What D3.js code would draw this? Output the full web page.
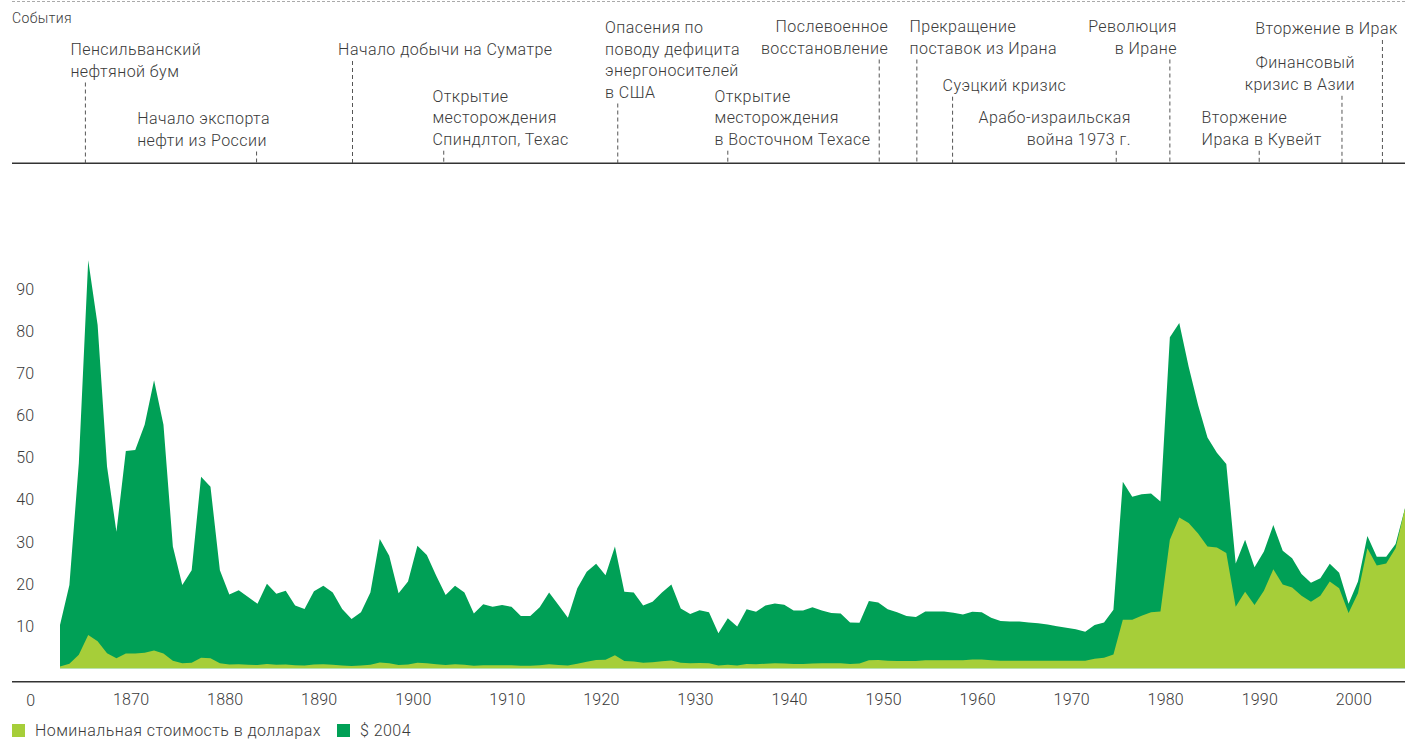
<!DOCTYPE html>
<html>
<head>
<meta charset="utf-8">
<script src="https://cdn.jsdelivr.net/npm/d3@7"></script>
<style>
  body { margin: 0; background: #fff; }
  svg { display: block; font-family: Roboto, "Liberation Sans", sans-serif; font-weight: 300; }
</style>
</head>
<body>
<svg id="chart" width="1410" height="740"></svg>
<script>
// годы и цены на нефть (два ряда)
var years = d3.range(1861, 2005);

var real2004 = [
  10.3, 19.8, 48.7, 96.9, 81.5, 47.9, 32.4, 51.6, 51.8, 57.8,
  68.4, 57.8, 28.9, 19.8, 23.3, 45.5, 43.1, 23.3, 17.5, 18.5,
  16.9, 15.3, 20.1, 17.7, 18.4, 14.9, 14.1, 18.3, 19.6, 18.0,
  14.1, 11.7, 13.3, 18.0, 30.7, 26.7, 17.8, 20.6, 29.1, 26.9,
  22.0, 17.4, 19.6, 18.0, 13.0, 15.2, 14.6, 15.0, 14.6, 12.4,
  12.4, 14.5, 18.0, 15.0, 12.0, 19.0, 22.9, 24.8, 22.1, 28.9,
  18.2, 18.0, 14.9, 15.8, 18.0, 19.9, 14.2, 12.9, 13.8, 13.3,
  8.3, 11.9, 9.9, 14.0, 13.4, 14.9, 15.4, 15.1, 13.7, 13.7,
  14.5, 13.7, 13.1, 13.0, 10.9, 10.8, 16.0, 15.6, 14.0, 13.3,
  12.4, 12.2, 13.5, 13.5, 13.5, 13.2, 12.8, 13.4, 13.3, 12.0,
  11.2, 11.1, 11.1, 10.9, 10.7, 10.4, 10.0, 9.6, 9.3, 8.7,
  10.3, 10.9, 13.9, 44.3, 40.7, 41.3, 41.5, 39.6, 78.6, 82.0,
  71.6, 62.5, 54.8, 51.2, 48.5, 24.9, 30.5, 24.0, 27.7, 34.0,
  27.9, 26.1, 22.4, 20.3, 21.4, 24.8, 22.7, 15.3, 20.6, 31.4,
  26.5, 26.5, 29.5, 38.0
];

var nominal = [
  0.4, 1.1, 3.2, 7.9, 6.4, 3.6, 2.4, 3.5, 3.5, 3.7,
  4.2, 3.5, 1.8, 1.2, 1.3, 2.5, 2.4, 1.2, 0.9, 0.95,
  0.86, 0.78, 1.0, 0.84, 0.88, 0.71, 0.67, 0.88, 0.94, 0.87,
  0.67, 0.56, 0.64, 0.84, 1.36, 1.18, 0.79, 0.91, 1.29, 1.19,
  0.96, 0.8, 0.94, 0.86, 0.62, 0.73, 0.72, 0.72, 0.7, 0.61,
  0.61, 0.74, 0.95, 0.81, 0.64, 1.1, 1.56, 1.98, 2.01, 3.07,
  1.73, 1.61, 1.34, 1.43, 1.68, 1.88, 1.3, 1.17, 1.27, 1.19,
  0.65, 0.87, 0.67, 1.0, 0.97, 1.09, 1.18, 1.13, 1.02, 1.02,
  1.14, 1.19, 1.2, 1.21, 1.05, 1.12, 1.9, 1.99, 1.78, 1.71,
  1.71, 1.71, 1.93, 1.93, 1.93, 1.93, 1.9, 2.08, 2.08, 1.9,
  1.8, 1.8, 1.8, 1.8, 1.8, 1.8, 1.8, 1.8, 1.8, 1.8,
  2.24, 2.48, 3.29, 11.5, 11.5, 12.5, 13.3, 13.5, 30.5, 35.8,
  34.5, 32.0, 28.9, 28.7, 27.4, 14.6, 18.2, 15.0, 18.4, 23.5,
  19.9, 19.2, 17.2, 15.8, 17.2, 20.6, 19.0, 13.1, 17.8, 28.5,
  24.4, 24.9, 28.5, 38.0
];

var xTicks = [1870, 1880, 1890, 1900, 1910, 1920, 1930, 1940, 1950, 1960, 1970, 1980, 1990, 2000];
var yTicks = [10, 20, 30, 40, 50, 60, 70, 80, 90];

var seriesNames = ["Номинальная стоимость в долларах", "$ 2004"];

// события: подписи и год (положение пунктирной линии)
var eventNames = [
  ["Пенсильванский", "нефтяной бум"],
  ["Начало экспорта", "нефти из России"],
  ["Начало добычи на Суматре"],
  ["Открытие", "месторождения", "Спиндлтоп, Техас"],
  ["Опасения по", "поводу дефицита", "энергоносителей", "в США"],
  ["Послевоенное", "восстановление"],
  ["Открытие", "месторождения", "в Восточном Техасе"],
  ["Прекращение", "поставок из Ирана"],
  ["Суэцкий кризис"],
  ["Арабо-израильская", "война 1973 г."],
  ["Революция", "в Иране"],
  ["Вторжение в Ирак"],
  ["Финансовый", "кризис в Азии"],
  ["Вторжение", "Ирака в Кувейт"]
];
var eventYears = [1863.7, 1881.9, 1892.1, 1901.8, 1920.3, 1948.1, 1932.0,
  1952.1, 1955.9, 1973.3, 1979.0, 2001.6, 1997.3, 1988.5];

// размещение подписей (anchor, сдвиг текста от линии, базовая линия первой строки)
var eventPlacement = [
  { anchor: "start", dx: -15, top: 55 },
  { anchor: "start", dx: -119.4, top: 124 },
  { anchor: "start", dx: -14.4, top: 55 },
  { anchor: "start", dx: -11.3, top: 101.7 },
  { anchor: "start", dx: -12.7, top: 33 },
  { anchor: "end", dx: 9, top: 32 },
  { anchor: "start", dx: -13.3, top: 101.7 },
  { anchor: "start", dx: -7.3, top: 32 },
  { anchor: "start", dx: -10, top: 90.7 },
  { anchor: "end", dx: 14.7, top: 123.3 },
  { anchor: "end", dx: 7, top: 32 },
  { anchor: "end", dx: 15.3, top: 34 },
  { anchor: "end", dx: 13, top: 68.3 },
  { anchor: "start", dx: -57.6, top: 123.3 }
];

var colors = { nominal: "#a6ce39", real: "#00a056", text: "#3a3a3a" };
var lineH = 21.5;
var headerBottom = 163.3;
var spacing = "0.45px";

var svg = d3.select("#chart");

var x = d3.scaleLinear()
  .domain([1861, 2004])
  .range([60, 1405]);

var y = d3.scaleLinear()
  .domain([0, 90])
  .range([668.3, 289.2]);

var realData = years.map(function (yr, i) { return { year: yr, value: real2004[i] }; });
var nomData = years.map(function (yr, i) { return { year: yr, value: nominal[i] }; });

var area = d3.area()
  .x(function (d) { return x(d.year); })
  .y0(y(0))
  .y1(function (d) { return y(d.value); });

svg.append("path")
  .datum(realData)
  .attr("fill", colors.real)
  .attr("d", area);

svg.append("path")
  .datum(nomData)
  .attr("fill", colors.nominal)
  .attr("d", area);

// ось X
svg.append("line")
  .attr("x1", 12).attr("x2", 1405)
  .attr("y1", 681.7).attr("y2", 681.7)
  .attr("stroke", "#333")
  .attr("stroke-width", 1.5);

var xAxis = svg.append("g")
  .attr("transform", "translate(0,681.7)")
  .call(d3.axisBottom(x).tickValues(xTicks).tickSize(0).tickPadding(12).tickFormat(d3.format("d")));
xAxis.select(".domain").remove();
xAxis.selectAll("text")
  .attr("dx", -14)
  .attr("fill", colors.text)
  .style("font-size", "16px")
  .style("letter-spacing", "0.2px")
  .style("font-family", "Roboto, 'Liberation Sans', sans-serif");

// ось Y
var yAxis = svg.append("g")
  .attr("transform", "translate(34,0)")
  .call(d3.axisLeft(y).tickValues(yTicks).tickSize(0).tickPadding(0));
yAxis.select(".domain").remove();
yAxis.selectAll("text")
  .attr("fill", colors.text)
  .style("font-size", "16px")
  .style("font-family", "Roboto, 'Liberation Sans', sans-serif");

svg.append("text")
  .attr("x", 35).attr("y", 706)
  .attr("text-anchor", "end")
  .attr("fill", colors.text)
  .style("font-size", "16px")
  .text("0");

// шапка с событиями
svg.append("line")
  .attr("x1", 12).attr("x2", 1405)
  .attr("y1", 1.5).attr("y2", 1.5)
  .attr("stroke", "#aaa")
  .attr("stroke-width", 1)
  .attr("stroke-dasharray", "3,2");

svg.append("text")
  .attr("x", 12).attr("y", 22.5)
  .attr("fill", colors.text)
  .style("font-size", "14px")
  .style("letter-spacing", "0.4px")
  .text("События");

svg.append("line")
  .attr("x1", 12).attr("x2", 1405)
  .attr("y1", headerBottom).attr("y2", headerBottom)
  .attr("stroke", "#333")
  .attr("stroke-width", 1.5);

var events = svg.append("g").attr("class", "events");

eventNames.forEach(function (lines, i) {
  var p = eventPlacement[i];
  var lx = x(eventYears[i]);
  var g = events.append("g");

  g.append("line")
    .attr("x1", lx).attr("x2", lx)
    .attr("y1", p.top + (lines.length - 1) * lineH + 6)
    .attr("y2", headerBottom)
    .attr("stroke", "#555")
    .attr("stroke-width", 1)
    .attr("stroke-dasharray", "4,3");

  var t = g.append("text")
    .attr("text-anchor", p.anchor)
    .attr("fill", colors.text)
    .style("font-size", "16px")
    .style("letter-spacing", spacing);
  lines.forEach(function (s, j) {
    t.append("tspan")
      .attr("x", lx + p.dx)
      .attr("y", p.top + j * lineH)
      .text(s);
  });
});

// легенда
var legend = svg.append("g").attr("transform", "translate(12,724)");
var legendItems = [
  { name: seriesNames[0], color: colors.nominal, x: 0 },
  { name: seriesNames[1], color: colors.real, x: 325 }
];
legendItems.forEach(function (d) {
  legend.append("rect")
    .attr("x", d.x).attr("y", 0)
    .attr("width", 13).attr("height", 13)
    .attr("fill", d.color);
  legend.append("text")
    .attr("x", d.x + 23).attr("y", 12)
    .attr("fill", colors.text)
    .style("font-size", "16px")
    .style("letter-spacing", spacing)
    .text(d.name);
});
</script>
</body>
</html>
